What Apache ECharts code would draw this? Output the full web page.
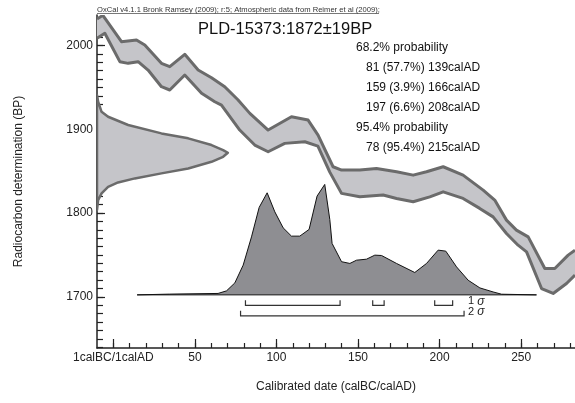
<!DOCTYPE html>
<html>
<head>
<meta charset="utf-8">
<title>PLD-15373 calibration</title>
<script src="https://cdn.jsdelivr.net/npm/echarts@6/dist/echarts.min.js"></script>
<style>
  html, body { margin: 0; padding: 0; background: #fff; }
  #chart { width: 575px; height: 403px; }
</style>
</head>
<body>
<div id="chart"></div>
<script>
// calibration curve band (upper and lower edge), cal years vs BP
const upperYears = [-10, -6.4, 5.0, 14.2, 19.3, 29.5, 34.6, 43.8, 52.0, 60.2, 68.3, 76.5, 83.7, 94.9, 109.2, 119.4, 125.5, 134.7, 139.9, 151.1, 161.3, 173.6, 183.8, 192.0, 202.2, 214.4, 226.7, 233.8, 241.0, 247.1, 254.3, 264.5, 270.6, 278.8, 283];
const upperBP = [2031.6, 2036, 2004.5, 2006.6, 2000.6, 1978.7, 1974.7, 1989.5, 1970.7, 1961.5, 1950.8, 1934.9, 1919.0, 1899.1, 1915.0, 1911.0, 1893.1, 1855.3, 1851.3, 1851.3, 1853.3, 1849.3, 1845.3, 1849.3, 1855.3, 1845.3, 1827.4, 1815.5, 1791.6, 1779.7, 1771.6, 1733.9, 1733.9, 1749.8, 1755.8];
const lowerYears = [-10, -5.2, 4.0, 9.1, 15.2, 21.3, 29.5, 34.6, 43.8, 54.1, 62.2, 66.3, 77.5, 86.7, 94.9, 105.1, 117.4, 125.4, 132.7, 139.9, 151.1, 165.4, 173.6, 183.8, 194.0, 202.2, 214.4, 224.6, 232.8, 241.0, 248.1, 253.3, 262.5, 269.6, 277.8, 283];
const lowerBP = [2008.6, 2014.6, 1980.7, 1978.7, 1980.7, 1970.7, 1950.8, 1946.9, 1964.8, 1942.9, 1932.9, 1928.9, 1899.1, 1881.2, 1873.2, 1883.2, 1885.1, 1880.0, 1848.9, 1823.5, 1819.4, 1821.5, 1817.5, 1813.5, 1819.4, 1825.4, 1817.5, 1805.6, 1795.5, 1775.7, 1761.7, 1753.7, 1710.0, 1704.1, 1716.0, 1725.9];

// radiocarbon date distribution drawn on the BP axis (height in cal years from the axis)
const gaussBP = [1940.9, 1932.9, 1920.9, 1915.0, 1905.1, 1895.1, 1889.2, 1881.2, 1875.2, 1872.0, 1867.2, 1861.2, 1853.3, 1847.4, 1841.4, 1836.6, 1831.4, 1823.5, 1815.5, 1803.5];
const gaussX = [-10, -9.3, -7.2, -3.2, 9.1, 29.5, 45.9, 60.2, 67.3, 70.2, 67.3, 60.2, 45.9, 29.5, 13.2, 2.9, -3.2, -7.2, -9.3, -10];

// calibrated distribution
const distYears = [14.6, 34.6, 64.2, 69.4, 74.5, 79.6, 84.7, 89.4, 94.3, 99.0, 104.1, 109.2, 114.3, 120.0, 124.9, 129.6, 132.7, 134.1, 139.9, 145.0, 149.1, 155.2, 160.3, 164.4, 173.6, 184.8, 192.0, 199.1, 203.8, 210.4, 217.5, 224.7, 232.8, 238.0, 259.4];
const distBP = [1702.4, 1703.3, 1704.1, 1707.2, 1716.7, 1737.9, 1771.6, 1806.8, 1824.2, 1801.5, 1782.4, 1772.5, 1772.5, 1780.5, 1820.3, 1834.2, 1792.3, 1763.8, 1742.0, 1739.9, 1743.8, 1745.0, 1749.8, 1749.4, 1739.9, 1729.1, 1739.9, 1755.8, 1754.6, 1735.8, 1719.9, 1710.7, 1705.9, 1703.2, 1702.4];
const distBase = 1702.4;

// ranges
const sigma1 = [[81, 139], [159, 166], [197, 208]];
const sigma2 = [[78, 215]];

const probLines = [
  "68.2% probability",
  "81 (57.7%) 139calAD",
  "159 (3.9%) 166calAD",
  "197 (6.6%) 208calAD",
  "95.4% probability",
  "78 (95.4%) 215calAD",
];

// ticks
const xLabelTicks = [0, 50, 100, 150, 200, 250];
const yLabelTicks = [1700, 1800, 1900, 2000];

function range(a, b, step) {
  let out = [];
  for (let v = a; v <= b; v += step) out.push(v);
  return out;
}
const xMinorTicks = range(0, 280, 10);
const yMinorTicks = range(1640, 2030, 10);

const X_MIN = -10, X_MAX = 283;
const Y_MIN = 1639, Y_MAX = 2036.4;
const FONT = "Liberation Sans, Arial, sans-serif";

const gridPos = { left: 97, right: 0, top: 15, bottom: 55 };

function bandItem(params, api) {
  const top = upperYears.map((x, i) => api.coord([x, upperBP[i]]));
  const bottom = lowerYears.map((x, i) => api.coord([x, lowerBP[i]]));
  const edge = { stroke: "#6b6b6b", lineWidth: 3, fill: null, lineJoin: "round" };
  return {
    type: "group",
    children: [
      { type: "polygon", shape: { points: top.concat(bottom.slice().reverse()) }, style: { fill: "#c5c5c9" } },
      { type: "polyline", shape: { points: top }, style: edge },
      { type: "polyline", shape: { points: bottom }, style: edge },
    ],
  };
}

function gaussItem(params, api) {
  const pts = gaussX.map((x, i) => api.coord([x, gaussBP[i]]));
  return {
    type: "polygon",
    shape: { points: pts },
    style: { fill: "#c5c5c9", stroke: "#6b6b6b", lineWidth: 2.5, lineJoin: "round" },
  };
}

function distItem(params, api) {
  const pts = distYears.map((x, i) => api.coord([x, distBP[i]]));
  return {
    type: "polygon",
    shape: { points: pts },
    style: { fill: "#8e8e92", stroke: "#111", lineWidth: 1 },
  };
}

function bracketItem(params, api) {
  let children = [];
  const rows = [
    { ranges: sigma1, off: 10.5, label: "1" },
    { ranges: sigma2, off: 21, label: "2" },
  ];
  const labelX = api.coord([215, distBase])[0] + 4;
  rows.forEach((row) => {
    let y = 0;
    row.ranges.forEach((r) => {
      const a = api.coord([r[0], distBase]);
      const b = api.coord([r[1], distBase]);
      y = a[1] + row.off;
      children.push({
        type: "polyline",
        shape: { points: [[a[0], y - 5], [a[0], y], [b[0], y], [b[0], y - 5]] },
        style: { stroke: "#333", lineWidth: 1.2, fill: null },
      });
    });
    children.push({
      type: "text",
      style: {
        x: labelX,
        y: y - 4,
        text: row.label + " {s|σ}",
        font: "11px " + FONT,
        fill: "#222",
        verticalAlign: "middle",
        rich: { s: { fontStyle: "italic", fontSize: 12, fontFamily: FONT, fill: "#222" } },
      },
    });
  });
  return { type: "group", children: children };
}

const chart = echarts.init(document.getElementById("chart"), null, { renderer: "canvas" });

let graphics = [
  {
    type: "text",
    left: 97,
    top: 5.5,
    style: {
      text: "OxCal v4.1.1 Bronk Ramsey (2009); r:5; Atmospheric data from Reimer et al (2009);",
      font: "7.6px " + FONT,
      fill: "#333",
    },
  },
  {
    type: "line",
    shape: { x1: 97, y1: 13.5, x2: 379, y2: 13.5 },
    style: { stroke: "#555", lineWidth: 0.8 },
  },
  {
    type: "text",
    left: 198,
    top: 21,
    style: { text: "PLD-15373:1872\u00b119BP", font: "16.5px " + FONT, fill: "#111" },
  },
];
probLines.forEach((t, i) => {
  const indent = t.indexOf("probability") > 0 ? 356 : 366;
  graphics.push({
    type: "text",
    left: indent,
    top: 42 + i * 20,
    style: { text: t, font: "12px " + FONT, fill: "#111" },
  });
});

const option = {
  animation: false,
  backgroundColor: "#fff",
  grid: [Object.assign({}, gridPos), Object.assign({}, gridPos)],
  xAxis: [
    {
      type: "value", gridIndex: 0, min: X_MIN, max: X_MAX,
      axisLine: { onZero: false, lineStyle: { color: "#222", width: 1.5 } },
      axisTick: { inside: true, length: 5, customValues: xMinorTicks, lineStyle: { color: "#222", width: 1.2 } },
      axisLabel: { show: false },
      splitLine: { show: false },
    },
    {
      type: "value", gridIndex: 1, min: X_MIN, max: X_MAX,
      axisLine: { show: false, onZero: false },
      axisTick: { inside: true, length: 9, customValues: xLabelTicks, lineStyle: { color: "#222", width: 1.2 } },
      axisLabel: {
        customValues: xLabelTicks, margin: 4, fontSize: 12, fontFamily: FONT, color: "#222",
        formatter: function (v) { return v === 0 ? "1calBC/1calAD" : String(v); },
      },
      splitLine: { show: false },
      name: "Calibrated date (calBC/calAD)",
      nameLocation: "middle",
      nameGap: 33,
      nameTextStyle: { fontSize: 12, fontFamily: FONT, color: "#222" },
    },
  ],
  yAxis: [
    {
      type: "value", gridIndex: 0, min: Y_MIN, max: Y_MAX,
      axisLine: { onZero: false, lineStyle: { color: "#222", width: 1.5 } },
      axisTick: { inside: true, length: 6, customValues: yMinorTicks, lineStyle: { color: "#222", width: 1.2 } },
      axisLabel: { show: false },
      splitLine: { show: false },
    },
    {
      type: "value", gridIndex: 1, min: Y_MIN, max: Y_MAX,
      axisLine: { show: false, onZero: false },
      axisTick: { inside: true, length: 8, customValues: yLabelTicks, lineStyle: { color: "#222", width: 1.2 } },
      axisLabel: {
        customValues: yLabelTicks, margin: 4, fontSize: 12, fontFamily: FONT, color: "#222",
        formatter: function (v) { return String(v); },
      },
      splitLine: { show: false },
      name: "Radiocarbon determination (BP)",
      nameLocation: "middle",
      nameGap: 72,
      nameTextStyle: { fontSize: 12, fontFamily: FONT, color: "#222" },
    },
  ],
  graphic: graphics,
  series: [
    { type: "custom", xAxisIndex: 0, yAxisIndex: 0, renderItem: bandItem, data: [[0, 1800]], clip: true, silent: true, z: 1 },
    { type: "custom", xAxisIndex: 0, yAxisIndex: 0, renderItem: gaussItem, data: [[0, 1800]], clip: true, silent: true, z: 2 },
    { type: "custom", xAxisIndex: 0, yAxisIndex: 0, renderItem: distItem, data: [[0, 1800]], silent: true, z: 3 },
    { type: "custom", xAxisIndex: 0, yAxisIndex: 0, renderItem: bracketItem, data: [[0, 1800]], silent: true, z: 4 },
  ],
};

chart.setOption(option);
</script>
</body>
</html>
